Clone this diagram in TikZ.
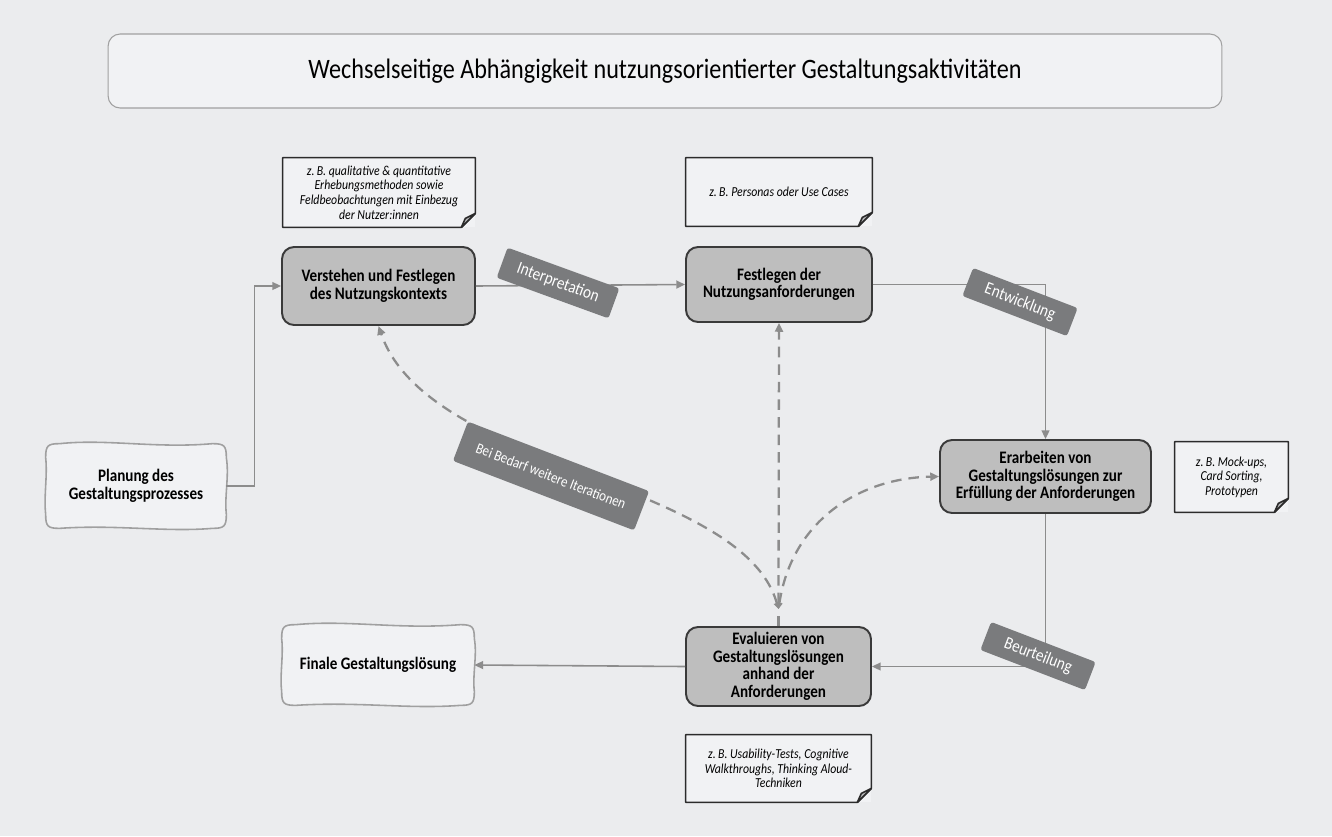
\documentclass[tikz,border=0pt]{standalone}
\usepackage{fontspec}
\setmainfont{Carlito}[FakeStretch=0.86]
\usetikzlibrary{arrows.meta,positioning,calc,backgrounds}
\definecolor{bggray}{RGB}{235,236,238}
\definecolor{panelfill}{RGB}{241,242,244}
\definecolor{stepfill}{RGB}{190,190,190}
\definecolor{stepline}{RGB}{58,58,58}
\definecolor{flowgray}{RGB}{140,140,140}
\definecolor{tagfill}{RGB}{122,123,125}
\definecolor{noteline}{RGB}{43,43,43}
\definecolor{wavyline}{RGB}{160,160,160}

\tikzset{
  stepbox/.style={draw=stepline, line width=1.1pt, rounded corners=0.24cm, fill=stepfill, align=center, inner sep=2pt, font=\fontsize{10}{10}\selectfont\bfseries},
  wavybox/.style={align=center, inner sep=2pt, font=\fontsize{10}{10}\selectfont\bfseries},
  wavyborder/.style={draw=wavyline, line width=0.9pt, fill=panelfill},
  notebox/.style={fill=panelfill, align=center, inner sep=2pt, font=\fontsize{7.8}{8.3}\selectfont\itshape},
  noteborder/.style={draw=noteline, line width=0.9pt, line join=round},
  tagbox/.style={fill=tagfill, text=white, rounded corners=1.5pt, inner sep=1pt, font=\fontsize{10}{11}\selectfont},
  flow/.style={draw=flowgray, line width=0.9pt, -{Triangle[length=5pt,width=4.5pt]}},
  iterline/.style={draw=flowgray, line width=1.3pt, dash pattern=on 6pt off 4pt},
  itertips/.style={{Triangle[length=3.5pt,width=3.5pt]}-{Triangle[length=5pt,width=4.5pt]}},
}

\begin{document}
\begin{tikzpicture}[x=0.02cm, y=-0.02cm]
  \useasboundingbox (0,0) rectangle (1332,836);

  \node[draw=wavyline, line width=0.6pt, fill=panelfill, rounded corners=0.24cm, minimum width=22.28cm, minimum height=1.48cm, font=\fontsize{16}{18}\selectfont] (title) at (665,71) {Wechselseitige Abhängigkeit nutzungsorientierter Gestaltungsaktivitäten};

  % Gestaltungsaktivitaeten
  \node[stepbox, minimum width=3.86cm, minimum height=1.56cm] (ctx) at (378.5,286) {Verstehen und Festlegen\\des Nutzungskontexts};
  \node[stepbox, minimum width=3.72cm, minimum height=1.50cm] (req) at (779,284.5) {Festlegen der\\Nutzungsanforderungen};
  \node[stepbox, minimum width=4.22cm, minimum height=1.46cm] (design) at (1045.5,476.5) {Erarbeiten von\\Gestaltungslösungen zur\\Erfüllung der Anforderungen};
  \node[stepbox, minimum width=3.70cm, minimum height=1.58cm] (eval) at (778.5,666.5) {Evaluieren von\\Gestaltungslösungen\\anhand der\\Anforderungen};
  \node[wavybox, minimum width=3.60cm, minimum height=1.68cm] (plan) at (136,486) {Planung des\\Gestaltungsprozesses};
  \node[wavybox, minimum width=3.84cm, minimum height=1.60cm] (final) at (378,665) {Finale Gestaltungslösung};

  % Beispiele
  \node[notebox, minimum width=3.84cm, minimum height=1.38cm] (nctx) at (379,192.5) {z.\,B. qualitative \& quantitative\\Erhebungsmethoden sowie\\Feldbeobachtungen mit Einbezug\\der Nutzer:innen};
  \node[notebox, minimum width=3.72cm, minimum height=1.36cm] (nreq) at (779,192) {z.\,B. Personas oder Use Cases};
  \node[notebox, minimum width=2.26cm, minimum height=1.40cm] (ndes) at (1231.5,477) {z.\,B. Mock-ups,\\Card Sorting,\\Prototypen};
  \node[notebox, minimum width=3.70cm, minimum height=1.34cm] (neval) at (778.5,768.5) {z.\,B. Usability-Tests, Cognitive\\Walkthroughs, Thinking Aloud-\\Techniken};
  \foreach \n in {nctx,nreq,ndes,neval} {
    \draw[noteborder] ($(\n.south east)+(-14,0)$) -- (\n.south west) -- (\n.north west) -- (\n.north east) -- ($(\n.south east)+(0,-14)$) -- cycle;
    \filldraw[noteborder, fill=panelfill!70!noteline] ($(\n.south east)+(-14,0)$) -- ($(\n.south east)+(-10,-9)$) -- ($(\n.south east)+(0,-14)$) -- cycle;
  }

  % wellige Rahmen
  \begin{scope}[on background layer]
    \fill[bggray] (0,0) rectangle (1332,836);
    \foreach \n in {plan,final} {
      \filldraw[wavyborder] ($(\n.north west)+(0,14)$)
        .. controls ($(\n.north west)+(0,2)$) and ($(\n.north west)+(2,0)$) .. ($(\n.north west)+(14,0)$)
        .. controls ($(\n.north)+(-30,-5)$) and ($(\n.north)+(20,5)$) .. ($(\n.north east)+(-14,0)$)
        .. controls ($(\n.north east)+(-2,0)$) and ($(\n.north east)+(0,2)$) .. ($(\n.north east)+(0,14)$)
        .. controls ($(\n.east)+(3,-10)$) and ($(\n.east)+(-2,10)$) .. ($(\n.south east)+(0,-14)$)
        .. controls ($(\n.south east)+(0,-2)$) and ($(\n.south east)+(-2,0)$) .. ($(\n.south east)+(-14,0)$)
        .. controls ($(\n.south)+(30,4)$) and ($(\n.south)+(-20,-4)$) .. ($(\n.south west)+(14,0)$)
        .. controls ($(\n.south west)+(2,0)$) and ($(\n.south west)+(0,-2)$) .. ($(\n.south west)+(0,-14)$)
        .. controls ($(\n.west)+(-2,10)$) and ($(\n.west)+(2,-10)$) .. cycle;
    }
  \end{scope}

  % Ablauf
  \draw[flow] (plan.east) -- ++(28,0) |- (ctx.west);
  \draw[flow] (ctx.east) -- (req.west);
  \draw[flow] (req.east) -| (design.north);
  \draw[flow] (design.south) |- (eval.east);
  \draw[flow] (eval.west) -- (final.east);

  % Iterationen
  \coordinate (hub) at (778.5,609);
  \draw[iterline] (eval.north) -- (hub);
  \draw[iterline, itertips] (hub) .. controls (742,480) and (428,470) .. (ctx.south);
  \draw[iterline, itertips] (hub) -- (req.south);
  \draw[iterline, itertips] (hub) .. controls (792,520) and (860,478) .. (design.west);

  % Beschriftungen
  \node[tagbox, rotate=-20, minimum width=2.38cm, minimum height=0.64cm] (tint) at (558,283) {Interpretation};
  \node[tagbox, rotate=-21, minimum width=2.24cm, minimum height=0.6cm] (tdev) at (1020,302) {Entwicklung};
  \node[tagbox, rotate=-21, minimum width=2.24cm, minimum height=0.6cm] (tevl) at (1038,656) {Beurteilung};
  \node[tagbox, rotate=-21, minimum width=3.88cm, minimum height=0.84cm, font=\fontsize{8.6}{9}\selectfont] (titer) at (551,476) {Bei Bedarf weitere Iterationen};
\end{tikzpicture}
\end{document}
